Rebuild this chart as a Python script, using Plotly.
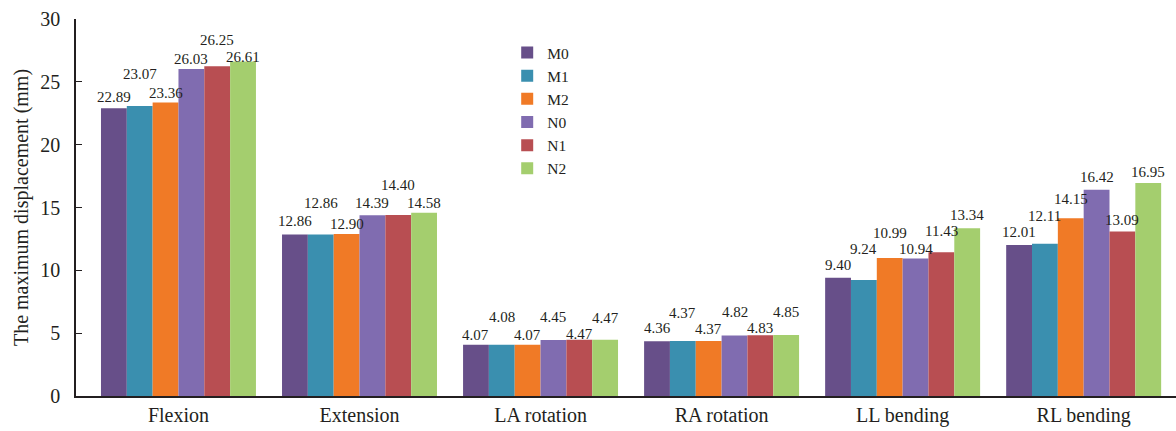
import plotly.graph_objects as go

# Loading cases on the x axis
categories = ["Flexion", "Extension", "LA rotation", "RA rotation", "LL bending", "RL bending"]

# Maximum displacement (mm) for each model
M0 = [22.89, 12.86, 4.07, 4.36, 9.40, 12.01]
M1 = [23.07, 12.86, 4.08, 4.37, 9.24, 12.11]
M2 = [23.36, 12.90, 4.07, 4.37, 10.99, 14.15]
N0 = [26.03, 14.39, 4.45, 4.82, 10.94, 16.42]
N1 = [26.25, 14.40, 4.47, 4.83, 11.43, 13.09]
N2 = [26.61, 14.58, 4.47, 4.85, 13.34, 16.95]

series_names = ["M0", "M1", "M2", "N0", "N1", "N2"]
series_values = [M0, M1, M2, N0, N1, N2]
colors = ["#674f89", "#3a8faf", "#f07a26", "#806cb0", "#b84e52", "#a4ce6e"]

# Vertical lift (px) of each value label above its bar, staggered so labels don't collide
label_lift = [
    [11, 13, 10, 13, 13, 13],
    [32, 31, 28, 28, 31, 28],
    [9, 10, 10, 12, 25, 19],
    [10, 12, 23, 23, 10, 13],
    [26, 30, 6, 7, 21, 12],
    [5, 10, 22, 23, 13, 11],
]

FONT = "Liberation Serif"
INK = "#231f20"

fig = go.Figure()
n = len(series_names)
for k, (name, vals, col) in enumerate(zip(series_names, series_values, colors)):
    fig.add_trace(go.Bar(
        name=name, x=categories, y=vals, marker=dict(color=col, line=dict(width=0)),
        offsetgroup=str(k),
    ))

# Value labels: positioned at each bar's x-offset within its group
group_width = 1 - 0.144
bar_w = group_width / n
for k, vals in enumerate(series_values):
    for i, v in enumerate(vals):
        fig.add_annotation(
            x=i - group_width / 2 + bar_w * (k + 0.5), y=v, xref="x", yref="y",
            text=f"{v:.2f}", showarrow=False, yanchor="middle",
            yshift=label_lift[k][i],
            font=dict(family=FONT, size=15, color=INK),
        )

fig.update_layout(
    width=1176, height=431,
    margin=dict(l=76, r=0, t=19, b=35),
    paper_bgcolor="white", plot_bgcolor="white",
    barmode="group", bargap=0.144, bargroupgap=0,
    font=dict(family=FONT, size=20, color=INK),
    showlegend=True,
    legend=dict(
        x=0.392, y=0.955, xanchor="left", yanchor="top",
        font=dict(family=FONT, size=15.5, color=INK),
        bgcolor="rgba(0,0,0,0)", tracegroupgap=0,
    ),
    xaxis=dict(
        type="category", range=[-0.566, 5.51],
        showline=True, linecolor=INK, linewidth=1.5,
        ticks="", showgrid=False, zeroline=False,
        tickfont=dict(family=FONT, size=20, color=INK),
    ),
    yaxis=dict(
        range=[0, 30], tickvals=[0, 5, 10, 15, 20, 25, 30],
        showline=True, linecolor=INK, linewidth=1.5,
        ticks="inside", ticklen=6, tickcolor=INK, tickwidth=1.2,
        ticklabelstandoff=10,
        showgrid=False, zeroline=False,
        tickfont=dict(family=FONT, size=20, color=INK),
        title=dict(text="The maximum displacement (mm)", font=dict(family=FONT, size=20, color=INK), standoff=6),
    ),
)

fig.write_html("out.html")
